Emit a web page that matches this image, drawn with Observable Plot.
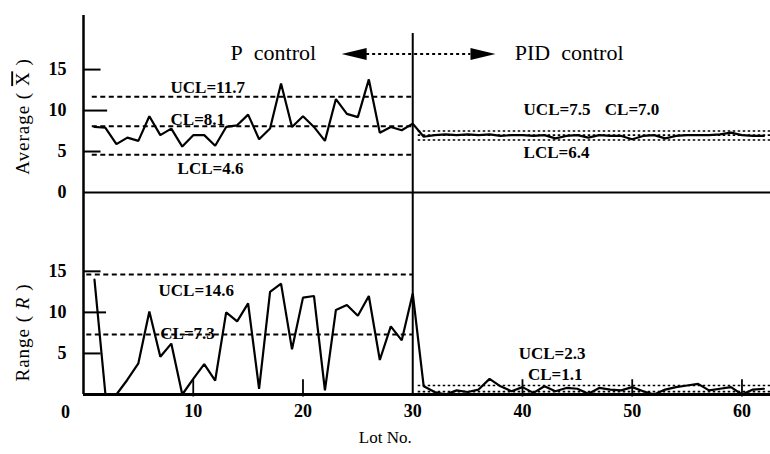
<!DOCTYPE html>
<html><head><meta charset="utf-8">
<script src="https://cdn.jsdelivr.net/npm/d3@7"></script>
<script src="https://cdn.jsdelivr.net/npm/@observablehq/plot@0.6"></script>
<style>
html,body{margin:0;padding:0;background:#fff;}
#chart{position:relative;width:770px;height:454px;}
#chart svg{position:absolute;left:0;top:0;}
#chart svg text{font-family:"Liberation Serif","DejaVu Serif",serif !important;}
</style></head><body><div id="chart"></div>
<script>
// ---- data ----
// Average (X-bar), P control lots 1..30
const pAverage = [8.0, 7.9, 5.9, 6.7, 6.3, 9.3, 7.0, 7.8, 5.6, 7.0, 7.0, 5.7, 8.0, 8.2, 9.5, 6.5, 7.8, 13.3, 8.0, 9.3, 8.0, 6.3, 11.4, 9.6, 9.2, 13.8, 7.3, 8.0, 7.6, 8.4];
// Average, PID control lots 31..62
const pidAverage = [6.8, 7.0, 7.1, 7.0, 7.1, 7.0, 7.1, 6.9, 7.0, 7.0, 6.9, 7.0, 6.6, 6.9, 7.0, 6.7, 7.0, 6.9, 6.9, 6.5, 6.9, 7.0, 6.6, 6.9, 7.0, 7.0, 7.0, 7.1, 7.3, 7.0, 6.9, 6.9];
// Range (R), P control lots 1..30
const pRange = [14.0, 0.0, 0.0, 1.8, 3.8, 10.1, 4.6, 6.2, 0.0, 1.9, 3.7, 1.7, 10.0, 8.9, 11.1, 0.7, 12.5, 13.5, 5.5, 11.8, 12.0, 0.5, 10.3, 10.9, 9.6, 12.0, 4.2, 8.3, 6.6, 12.3];
// Range, PID control lots 31..62
const pidRange = [1.0, 0.3, 0.0, 0.5, 0.3, 0.6, 1.9, 1.0, 0.4, 0.9, 0.2, 1.0, 0.4, 0.8, 0.7, 0.1, 0.8, 0.6, 0.5, 0.9, 0.4, 0.0, 0.6, 0.9, 1.1, 1.3, 0.5, 0.7, 0.9, 0.0, 0.6, 0.7];

// control limits
const pAvgLimits = [11.7, 8.1, 4.6];
const pidAvgLimits = [7.5, 7.0, 6.4];
const pRangeLimits = [14.6, 7.3];
const pidRangeLimits = [1.1, 0.35];

// tick labels
const yTicks = [0, 5, 10, 15];
const xTicks = [10, 20, 30, 40, 50, 60];
const xTickMarks = [10, 20, 40, 50, 60];

const avgData = [...pAverage, ...pidAverage].map((v, i) => ({lot: i + 1, value: v}));
const rangeData = [...pRange, ...pidRange].map((v, i) => ({lot: i + 1, value: v}));

const SERIF = '"Liberation Serif", "DejaVu Serif", serif';
const X_DOMAIN = [0, 62.6];
const BOLD = {fontFamily: SERIF, fontWeight: "bold", fontSize: 17, textAnchor: "start", fill: "black"};

const arrowHead = {
  draw(ctx) { ctx.moveTo(12.5, 0); ctx.lineTo(-12.5, -6); ctx.lineTo(-12.5, 6); ctx.closePath(); }
};

const common = {
  width: 770, height: 454, marginLeft: 83, marginRight: 0,
  style: {background: "transparent", fontFamily: SERIF, overflow: "visible"},
  x: {domain: X_DOMAIN, axis: null}
};

const topPlot = Plot.plot({
  ...common,
  marginTop: 15, marginBottom: 262,
  y: {domain: [0, 21.6], axis: null},
  marks: [
    Plot.ruleY([0], {stroke: "black", strokeWidth: 2}),
    Plot.ruleX([0], {y1: 0, y2: 21.6, stroke: "black", strokeWidth: 2.5}),
    Plot.ruleY(yTicks.filter(d => d > 0), {y: d => d, x1: 0, x2: d => d === 10 ? 2.2 : 1.6, stroke: "black", strokeWidth: 2}),
    Plot.axisY({ticks: yTicks, tickSize: 0, tickPadding: 17, fontSize: 18, fontWeight: "bold", fontFamily: SERIF, label: null, tickFormat: d => String(d)}),
    Plot.ruleX([30], {y1: 0, y2: 19.4, stroke: "black", strokeWidth: 2}),
    // control limits
    Plot.ruleY(pAvgLimits, {x1: 0.8, x2: 30, stroke: "black", strokeWidth: 2, strokeDasharray: "5,3.5"}),
    Plot.ruleY(pidAvgLimits, {x1: 30.5, x2: 62.6, stroke: "black", strokeWidth: 1.6, strokeDasharray: "2.5,2.5"}),
    // data
    Plot.line(avgData, {x: "lot", y: "value", stroke: "black", strokeWidth: 2.2, strokeLinejoin: "miter"}),
    // limit labels
    Plot.text(["UCL=11.7"], {...BOLD, x: 7.93, y: 12.8, text: d => d}),
    Plot.text(["CL=8.1"], {...BOLD, x: 7.93, y: 8.85, text: d => d}),
    Plot.text(["LCL=4.6"], {...BOLD, x: 8.57, y: 2.93, text: d => d}),
    Plot.text(["UCL=7.5"], {...BOLD, x: 40.1, y: 10.1, text: d => d}),
    Plot.text(["CL=7.0"], {...BOLD, x: 47.5, y: 10.1, text: d => d}),
    Plot.text(["LCL=6.4"], {...BOLD, x: 40.1, y: 4.9, text: d => d}),
    // control mode annotation
    Plot.text(["P\u00a0\u00a0control"], {x: 13.4, y: 17.0, text: d => d, textAnchor: "start", fontSize: 22, fontFamily: SERIF}),
    Plot.text(["PID\u00a0\u00a0control"], {x: 39.3, y: 17.0, text: d => d, textAnchor: "start", fontSize: 22, fontFamily: SERIF}),
    Plot.ruleY([16.9], {x1: 25.8, x2: 35.3, stroke: "black", strokeWidth: 2, strokeDasharray: "3,3"}),
    Plot.dot([{x: 24.66, r: 180}, {x: 36.4, r: 0}], {x: "x", y: () => 16.9, rotate: "r", symbol: arrowHead, fill: "black", stroke: "none"}),
    // y title
    Plot.text(["Average ( X )"], {x: -5.5, y: 9.27, text: d => d, rotate: -90, fontSize: 19, fontFamily: SERIF})
  ]
});

const bottomPlot = Plot.plot({
  ...common,
  marginTop: 192, marginBottom: 60,
  y: {domain: [0, 24.6], axis: null},
  marks: [
    Plot.ruleY([0], {stroke: "black", strokeWidth: 3}),
    Plot.ruleX([0], {y1: 0, y2: 24.6, stroke: "black", strokeWidth: 2.5}),
    Plot.ruleY(yTicks.filter(d => d > 0), {y: d => d, x1: 0, x2: d => d === 10 ? 2.1 : 1.6, stroke: "black", strokeWidth: 2}),
    Plot.axisY({ticks: yTicks.filter(d => d > 0), tickSize: 0, tickPadding: 17, fontSize: 18, fontWeight: "bold", fontFamily: SERIF, label: null, tickFormat: d => String(d)}),
    Plot.text(["0"], {x: 0, y: 0, dx: -18, dy: 18, text: d => d, fontSize: 18, fontWeight: "bold", fontFamily: SERIF}),
    Plot.ruleX(xTickMarks, {y1: -0.3, y2: 1.8, stroke: "black", strokeWidth: 1.8}),
    Plot.axisX({ticks: xTicks, tickSize: 0, tickPadding: 10, fontSize: 18, fontWeight: "bold", fontFamily: SERIF, label: null, tickFormat: d => String(d)}),
    Plot.ruleX([30], {y1: 0, y2: 24.6, stroke: "black", strokeWidth: 2}),
    // control limits
    Plot.ruleY(pRangeLimits, {x1: 0.3, x2: 30, stroke: "black", strokeWidth: 2, strokeDasharray: "5,3.5"}),
    Plot.ruleY(pidRangeLimits, {x1: 30.5, x2: 62.6, stroke: "black", strokeWidth: 1.6, strokeDasharray: "2.5,2.5"}),
    Plot.line(rangeData, {x: "lot", y: "value", stroke: "black", strokeWidth: 2.2, strokeLinejoin: "miter"}),
    Plot.text(["UCL=14.6"], {...BOLD, x: 6.84, y: 12.67, text: d => d}),
    Plot.text(["CL=7.3"], {...BOLD, x: 7.0, y: 7.45, text: d => d}),
    Plot.text(["UCL=2.3"], {...BOLD, x: 39.65, y: 4.99, text: d => d}),
    Plot.text(["CL=1.1"], {...BOLD, x: 40.5, y: 2.44, text: d => d}),
    Plot.text(["Range ( R )"], {x: -5.5, y: 7.55, text: d => d, rotate: -90, fontSize: 19, fontFamily: SERIF}),
    Plot.text(["Lot No."], {x: 27.5, y: -5.24, text: d => d, fontSize: 17, fontFamily: SERIF})
  ]
});

const chart = document.getElementById("chart");
chart.appendChild(bottomPlot);
chart.appendChild(topPlot);

// styled pieces of the axis titles (overlined X, italic R)
d3.select(topPlot).selectAll("text").filter(function () { return this.textContent === "Average ( X )"; })
  .each(function () {
    const t = d3.select(this).text(null).attr("letter-spacing", 1);
    t.append("tspan").text("Average ( ");
    t.append("tspan").style("text-decoration", "overline").text("X");
    t.append("tspan").text(" )");
  });
d3.select(bottomPlot).selectAll("text").filter(function () { return this.textContent === "Range ( R )"; })
  .each(function () {
    const t = d3.select(this).text(null).attr("letter-spacing", 1);
    t.append("tspan").text("Range ( ");
    t.append("tspan").attr("font-style", "italic").text("R");
    t.append("tspan").text(" )");
  });
</script></body></html>
